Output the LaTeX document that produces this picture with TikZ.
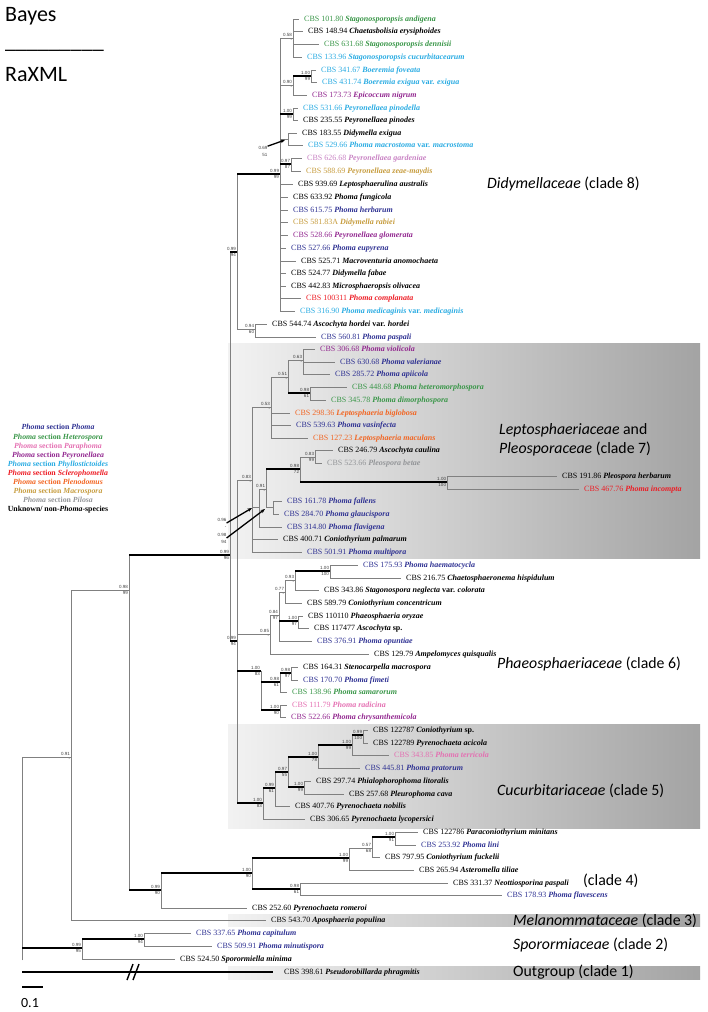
\documentclass[tikz,border=0pt]{standalone}
\usepackage{fontspec}
\setmainfont{Liberation Serif}
\newfontfamily\calib{Carlito}
\newfontfamily\arialf{Liberation Sans}
\usetikzlibrary{arrows.meta}

\definecolor{cblue}{RGB}{46,49,146}
\definecolor{cgreen}{RGB}{57,150,72}
\definecolor{ccyan}{RGB}{41,171,226}
\definecolor{cpurple}{RGB}{146,39,143}
\definecolor{cpink}{RGB}{228,112,178}
\definecolor{clav}{RGB}{200,130,195}
\definecolor{cred}{RGB}{237,28,36}
\definecolor{corange}{RGB}{242,101,34}
\definecolor{ctan}{RGB}{198,156,62}
\definecolor{cgray}{RGB}{147,149,152}

\newcommand{\spn}[1]{\textbf{\textit{#1}}}
\newcommand{\varb}{\textbf{var.}}
\newcommand{\cbs}[2]{CBS #1 \spn{#2}}
\newcommand{\bsv}[3]{%
  \node[bsup,anchor=south east] at ([xshift=-0.8pt,yshift=1.5pt]#1) {#2};
  \node[bsup,anchor=north east] at ([xshift=-0.8pt,yshift=-1.5pt]#1) {#3};}

\tikzset{
  tip/.style={anchor=west,inner sep=0pt,font=\fontsize{8}{9}\selectfont,
    text height=5.6pt,text depth=1.6pt},
  br/.style={draw=black!50,line width=0.6pt},
  thk/.style={draw=black,line width=2.8pt},
  bsup/.style={inner sep=0pt,font=\arialf\fontsize{4.5}{7}\selectfont,text=black!75},
  clade/.style={anchor=base west,inner sep=0pt,font=\calib\fontsize{15.8}{18}\selectfont},
  arr/.style={-{Stealth[length=4.5pt,width=3.5pt]},line width=1.3pt},
  legend/.style={align=center,inner sep=0pt,font=\fontsize{7.8}{9.1}\selectfont},
  band/.style={left color=black!5,right color=black!36},
}

\begin{document}
\begin{tikzpicture}[x=1pt,y=-1pt]
\useasboundingbox (0,0) rectangle (707,1012);

% family backgrounds
\shade[band] (228,343) rectangle (700,558);
\shade[band] (228,724) rectangle (700,828);
\shade[band] (228,914) rectangle (700,926);
\shade[band] (228,966) rectangle (700,979);

% header
\node[anchor=base west,inner sep=0pt,font=\calib\fontsize{22}{24}\selectfont] (bayes) at (5,21) {Bayes};
\node[anchor=base west,inner sep=0pt,font=\calib\fontsize{22}{24}\selectfont] (rule) at (5,48) {\_\_\_\_\_\_\_\_\_};
\node[anchor=base west,inner sep=0pt,font=\calib\fontsize{22}{24}\selectfont] (raxml) at (5,81) {RaXML};

% internal nodes
\coordinate (nroot) at (22,960);
\coordinate (nc491) at (71,757);
\coordinate (nc498) at (129,590);
\coordinate (nmain) at (230,555);
\coordinate (ndstem) at (237,252);
\coordinate (ndidy) at (280,174);
\coordinate (nstago) at (293,38);
\coordinate (nepic) at (293,85);
\coordinate (nboer) at (311,76);
\coordinate (npin) at (293,114);
\coordinate (nmac) at (288,139);
\coordinate (ngar) at (291,164);
\coordinate (nhord) at (255,329);
\coordinate (ncore) at (237,641);
\coordinate (nlstem) at (252,480);
\coordinate (nlp53) at (271,407);
\coordinate (nlp51) at (288,377);
\coordinate (nviol) at (303,360);
\coordinate (ndimo) at (310,393);
\coordinate (nflav) at (259,507);
\coordinate (npl91) at (266,489);
\coordinate (npl98) at (300,469);
\coordinate (nbet) at (315,457);
\coordinate (npleo) at (447,482);
\coordinate (nfall) at (273,507);
\coordinate (nph85) at (270,634);
\coordinate (nph84) at (279,615);
\coordinate (nph77) at (285,592);
\coordinate (nph93) at (295,580);
\coordinate (nchaet) at (330,571);
\coordinate (noryz) at (298,621);
\coordinate (nph100) at (261,671);
\coordinate (nsama) at (280,682);
\coordinate (nfime) at (291,673);
\coordinate (nradi) at (280,710);
\coordinate (ncucu) at (263,803);
\coordinate (ncu99) at (275,788);
\coordinate (ncu97) at (288,772);
\coordinate (nprat) at (318,757);
\coordinate (nterr) at (352,745);
\coordinate (nacic) at (363,735);
\coordinate (nlito) at (304,787);
\coordinate (nc499) at (161,890);
\coordinate (nc4) at (252,873);
\coordinate (nc4a) at (349,858);
\coordinate (nc457) at (372,848);
\coordinate (nlini) at (395,837);
\coordinate (nneot) at (300,889);
\coordinate (nspor) at (82,948);
\coordinate (nspor1) at (144,939);

% Didymellaceae
\node[tip,text=cgreen] (andig) at (304,19) {\cbs{101.80}{Stagonosporopsis andigena}};
\node[tip] (erysi) at (308,31) {\cbs{148.94}{Chaetasbolisia erysiphoides}};
\node[tip,text=cgreen] (denni) at (324,44) {\cbs{631.68}{Stagonosporopsis dennisii}};
\node[tip,text=ccyan] (cucur) at (307,57) {\cbs{133.96}{Stagonosporopsis cucurbitacearum}};
\node[tip,text=ccyan] (fovea) at (321,70) {\cbs{341.67}{Boeremia foveata}};
\node[tip,text=ccyan] (exigu) at (322,82) {\cbs{431.74}{Boeremia exigua} \varb{} \spn{exigua}};
\node[tip,text=cpurple] (epico) at (312,95) {\cbs{173.73}{Epicoccum nigrum}};
\node[tip,text=ccyan] (pinla) at (303,108) {\cbs{531.66}{Peyronellaea pinodella}};
\node[tip] (pinod) at (303,120) {\cbs{235.55}{Peyronellaea pinodes}};
\node[tip] (dexig) at (302,133) {\cbs{183.55}{Didymella exigua}};
\node[tip,text=ccyan] (macro) at (308,145) {\cbs{529.66}{Phoma macrostoma} \varb{} \spn{macrostoma}};
\node[tip,text=clav] (garde) at (307,158) {\cbs{626.68}{Peyronellaea gardeniae}};
\node[tip,text=ctan] (zeaem) at (306,171) {\cbs{588.69}{Peyronellaea zeae-maydis}};
\node[tip] (austr) at (298,184) {\cbs{939.69}{Leptosphaerulina australis}};
\node[tip] (fungi) at (293,197) {\cbs{633.92}{Phoma fungicola}};
\node[tip,text=cblue] (herba) at (293,210) {\cbs{615.75}{Phoma herbarum}};
\node[tip,text=ctan] (rabie) at (293,222) {\cbs{581.83A}{Didymella rabiei}};
\node[tip,text=cpurple] (glome) at (293,235) {\cbs{528.66}{Peyronellaea glomerata}};
\node[tip,text=cblue] (eupyr) at (291,248) {\cbs{527.66}{Phoma eupyrena}};
\node[tip] (anomo) at (301,261) {\cbs{525.71}{Macroventuria anomochaeta}};
\node[tip] (fabae) at (291,273) {\cbs{524.77}{Didymella fabae}};
\node[tip] (oliva) at (291,286) {\cbs{442.83}{Microsphaeropsis olivacea}};
\node[tip,text=cred] (compl) at (306,298) {\cbs{100311}{Phoma complanata}};
\node[tip,text=ccyan] (medic) at (300,311) {\cbs{316.90}{Phoma medicaginis} \varb{} \spn{medicaginis}};
\node[tip] (horde) at (272,324) {\cbs{544.74}{Ascochyta hordei} \varb{} \spn{hordei}};
\node[tip,text=cblue] (paspa) at (321,337) {\cbs{560.81}{Phoma paspali}};

% Leptosphaeriaceae and Pleosporaceae
\node[tip,text=cpurple] (violi) at (320,349) {\cbs{306.68}{Phoma violicola}};
\node[tip,text=cblue] (valer) at (340,362) {\cbs{630.68}{Phoma valerianae}};
\node[tip,text=cblue] (apiic) at (335,374) {\cbs{285.72}{Phoma apiicola}};
\node[tip,text=cgreen] (heter) at (352,387) {\cbs{448.68}{Phoma heteromorphospora}};
\node[tip,text=cgreen] (dimor) at (331,400) {\cbs{345.78}{Phoma dimorphospora}};
\node[tip,text=corange] (biglo) at (295,413) {\cbs{298.36}{Leptosphaeria biglobosa}};
\node[tip,text=cblue] (vasin) at (296,425) {\cbs{539.63}{Phoma vasinfecta}};
\node[tip,text=corange] (macul) at (313,438) {\cbs{127.23}{Leptosphaeria maculans}};
\node[tip] (cauli) at (338,450) {\cbs{246.79}{Ascochyta caulina}};
\node[tip,text=cgray] (betae) at (327,463) {\cbs{523.66}{Pleospora betae}};
\node[tip] (pherb) at (562,476) {\cbs{191.86}{Pleospora herbarum}};
\node[tip,text=cred] (incom) at (584,489) {\cbs{467.76}{Phoma incompta}};
\node[tip,text=cblue] (falle) at (287,501) {\cbs{161.78}{Phoma fallens}};
\node[tip,text=cblue] (glauc) at (284,514) {\cbs{284.70}{Phoma glaucispora}};
\node[tip,text=cblue] (flavi) at (287,527) {\cbs{314.80}{Phoma flavigena}};
\node[tip] (palma) at (283,539) {\cbs{400.71}{Coniothyrium palmarum}};
\node[tip,text=cblue] (multi) at (307,552) {\cbs{501.91}{Phoma multipora}};

% Phaeosphaeriaceae
\node[tip,text=cblue] (haema) at (363,565) {\cbs{175.93}{Phoma haematocycla}};
\node[tip] (hispi) at (406,578) {\cbs{216.75}{Chaetosphaeronema hispidulum}};
\node[tip] (negle) at (324,590) {\cbs{343.86}{Stagonospora neglecta} \varb{} \spn{colorata}};
\node[tip] (conce) at (307,603) {\cbs{589.79}{Coniothyrium concentricum}};
\node[tip] (oryza) at (308,616) {\cbs{110110}{Phaeosphaeria oryzae}};
\node[tip] (ascsp) at (314,628) {\cbs{117477}{Ascochyta} \textbf{sp.}};
\node[tip,text=cblue] (opunt) at (317,641) {\cbs{376.91}{Phoma opuntiae}};
\node[tip] (quisq) at (374,654) {\cbs{129.79}{Ampelomyces quisqualis}};
\node[tip] (steno) at (303,667) {\cbs{164.31}{Stenocarpella macrospora}};
\node[tip,text=cblue] (fimet) at (303,680) {\cbs{170.70}{Phoma fimeti}};
\node[tip,text=cgreen] (samar) at (292,692) {\cbs{138.96}{Phoma samarorum}};
\node[tip,text=cpink] (radic) at (292,705) {\cbs{111.79}{Phoma radicina}};
\node[tip,text=cpurple] (chrys) at (291,717) {\cbs{522.66}{Phoma chrysanthemicola}};

% Cucurbitariaceae
\node[tip] (conio) at (373,730) {\cbs{122787}{Coniothyrium} \textbf{sp.}};
\node[tip] (acico) at (373,743) {\cbs{122789}{Pyrenochaeta acicola}};
\node[tip,text=cpink] (terri) at (394,755) {\cbs{343.85}{Phoma terricola}};
\node[tip,text=cblue] (prato) at (365,768) {\cbs{445.81}{Phoma pratorum}};
\node[tip] (litor) at (316,781) {\cbs{297.74}{Phialophorophoma litoralis}};
\node[tip] (cava) at (349,794) {\cbs{257.68}{Pleurophoma cava}};
\node[tip] (nobil) at (295,806) {\cbs{407.76}{Pyrenochaeta nobilis}};
\node[tip] (lycop) at (310,819) {\cbs{306.65}{Pyrenochaeta lycopersici}};

% clade 4 to outgroup
\node[tip] (minit) at (423,832) {\cbs{122786}{Paraconiothyrium minitans}};
\node[tip,text=cblue] (plini) at (421,845) {\cbs{253.92}{Phoma lini}};
\node[tip] (fucke) at (385,857) {\cbs{797.95}{Coniothyrium fuckelii}};
\node[tip] (tilia) at (419,870) {\cbs{265.94}{Asteromella tiliae}};
\node[tip] (paspl) at (453,883) {\cbs{331.37}{Neottiosporina paspali}};
\node[tip,text=cblue] (flave) at (507,895) {\cbs{178.93}{Phoma flavescens}};
\node[tip] (romer) at (252,908) {\cbs{252.60}{Pyrenochaeta romeroi}};
\node[tip] (popul) at (271,920) {\cbs{543.70}{Aposphaeria populina}};
\node[tip,text=cblue] (capit) at (196,933) {\cbs{337.65}{Phoma capitulum}};
\node[tip,text=cblue] (minut) at (217,946) {\cbs{509.91}{Phoma minutispora}};
\node[tip] (minim) at (180,959) {\cbs{524.50}{Sporormiella minima}};
\node[tip] (phrag) at (284,972) {\cbs{398.61}{Pseudorobillarda phragmitis}};

% branches to internal nodes
\foreach \p/\c in {ndidy/nstago,ndidy/nepic,nepic/nboer,ndidy/npin,ndidy/nmac,ndidy/ngar,
  ndstem/ndidy,ndstem/nhord,nmain/ndstem,nmain/ncore,ncore/nlstem,nlstem/nlp53,nlp53/nlp51,
  nlp51/nviol,nlp51/ndimo,nlstem/nflav,nflav/npl91,npl91/npl98,npl91/nfall,npl98/nbet,
  npl98/npleo,ncore/nph85,nph85/nph84,nph84/nph77,nph77/nph93,nph93/nchaet,nph84/noryz,
  ncore/nph100,nph100/nsama,nsama/nfime,nph100/nradi,ncore/ncucu,ncucu/ncu99,ncu99/ncu97,
  ncu97/nprat,nprat/nterr,nterr/nacic,ncu97/nlito,nc498/nmain,nc491/nc498,nc498/nc499,
  nc499/nc4,nc4/nc4a,nc4a/nc457,nc457/nlini,nc4/nneot,nroot/nc491,nroot/nspor,nspor/nspor1}
  \draw[br] (\p) |- (\c);

% branches to tips
\foreach \p/\c in {nstago/andig,nstago/erysi,nstago/denni,nstago/cucur,nboer/fovea,nboer/exigu,
  nepic/epico,npin/pinla,npin/pinod,nmac/dexig,nmac/macro,ngar/garde,ngar/zeaem,ndidy/austr,
  ndidy/fungi,ndidy/herba,ndidy/rabie,ndidy/glome,ndidy/eupyr,ndidy/anomo,ndidy/fabae,
  ndidy/oliva,ndidy/compl,ndidy/medic,nhord/horde,nhord/paspa,nviol/violi,nviol/valer,
  nviol/apiic,ndimo/heter,ndimo/dimor,nlp53/biglo,nlp53/vasin,nlp53/macul,nbet/cauli,
  nbet/betae,npleo/pherb,npleo/incom,nfall/falle,nfall/glauc,nflav/flavi,nlstem/palma,
  nlstem/multi,nchaet/haema,nchaet/hispi,nph93/negle,nph77/conce,noryz/oryza,noryz/ascsp,
  nph84/opunt,nph85/quisq,nfime/steno,nfime/fimet,nsama/samar,nradi/radic,nradi/chrys,
  nacic/conio,nacic/acico,nterr/terri,nprat/prato,nlito/litor,nlito/cava,ncu99/nobil,
  ncucu/lycop,nlini/minit,nlini/plini,nc457/fucke,nc4a/tilia,nneot/paspl,nneot/flave,
  nc499/romer,nc491/popul,nspor1/capit,nspor1/minut,nspor/minim}
  \draw[br,shorten >=5pt] (\p) |- (\c);

% well supported branches
\foreach \p/\c in {ndstem/ndidy,nmain/ndstem,nc498/nmain,nmain/ncore,nepic/nboer,ndidy/npin,
  ndidy/ngar,nlp51/ndimo,npl91/npl98,npl98/npleo,nph93/nchaet,nph84/noryz,ncore/nph100,
  nph100/nsama,nsama/nfime,nph100/nradi,ncore/ncucu,ncucu/ncu99,ncu99/ncu97,ncu97/nprat,
  nprat/nterr,nterr/nacic,ncu97/nlito,nc457/nlini,nc499/nc4,nc4/nc4a,nc4/nneot,nc498/nc499,
  nroot/nspor,nspor/nspor1}
  \draw[thk] (\p |- \c) -- (\c);
\draw[thk,shorten >=11pt] (nroot |- phrag) -- (phrag);
\draw[line width=1.4pt] (127,980) -- (133,964) (133,980) -- (139,964);

% support values
\bsv{nstago}{0.58}{-} \bsv{nepic}{0.90}{-} \bsv{nboer}{1.00}{99} \bsv{npin}{1.00}{99}
\bsv{ngar}{0.97}{87} \bsv{ndidy}{0.99}{99} \bsv{ndstem}{0.99}{94} \bsv{nhord}{0.94}{60}
\bsv{nviol}{0.63}{-} \bsv{ndimo}{0.98}{61} \bsv{nlp51}{0.51}{-} \bsv{nlp53}{0.53}{-}
\bsv{nlstem}{0.83}{-} \bsv{npl91}{0.91}{-} \bsv{npl98}{0.98}{72} \bsv{nbet}{0.83}{99}
\bsv{npleo}{1.00}{100} \bsv{nchaet}{1.00}{100} \bsv{nph93}{0.93}{-} \bsv{nph77}{0.77}{-}
\bsv{noryz}{1.00}{97} \bsv{nph84}{0.84}{97} \bsv{nph85}{0.85}{-} \bsv{ncore}{0.99}{94}
\bsv{nfime}{0.98}{97} \bsv{nsama}{0.98}{61} \bsv{nradi}{1.00}{90} \bsv{nph100}{1.00}{83}
\bsv{nacic}{0.99}{100} \bsv{nterr}{1.00}{99} \bsv{nprat}{1.00}{78} \bsv{nlito}{1.00}{99}
\bsv{ncu97}{0.97}{55} \bsv{ncu99}{0.99}{61} \bsv{ncucu}{1.00}{83} \bsv{nlini}{1.00}{91}
\bsv{nc457}{0.57}{68} \bsv{nc4a}{1.00}{99} \bsv{nneot}{0.98}{61} \bsv{nc4}{1.00}{90}
\bsv{nc499}{0.99}{90} \bsv{nc498}{0.98}{99} \bsv{nmain}{0.99}{96} \bsv{nc491}{0.91}{-}
\bsv{nspor}{0.99}{95} \bsv{nspor1}{1.00}{94}

% values for short branches, with arrows
\node[bsup,align=right] (lmac) at (263,151.5) {0.69\\51};
\node[bsup,align=right] (lflav) at (222,523) {0.96\\-};
\node[bsup,align=right] (lfall) at (222,538) {0.98\\94};
\coordinate (amac) at (285,140);
\coordinate (aflav) at (252,508);
\coordinate (afall) at (265,509);
\draw[arr] (lmac.north east) -- (amac);
\draw[arr] (lflav.east) -- (aflav);
\draw[arr] (lfall.east) -- (afall);

% family labels
\node[clade] (didy) at (487,188) {\textit{Didymellaceae} (clade 8)};
\node[clade] (lepto) at (499,434) {\textit{Leptosphaeriaceae} and};
\node[clade] (pleo) at (499,453) {\textit{Pleosporaceae} (clade 7)};
\node[clade] (phaeo) at (497,668) {\textit{Phaeosphaeriaceae} (clade 6)};
\node[clade] (cucu) at (497,795) {\textit{Cucurbitariaceae} (clade 5)};
\node[clade] (cl4) at (583,885) {(clade 4)};
\node[clade] (melan) at (513,925) {\textit{Melanommataceae} (clade 3)};
\node[clade] (spor) at (513,949) {\textit{Sporormiaceae} (clade 2)};
\node[clade] (outg) at (513,976) {Outgroup (clade 1)};

% legend
\node[legend] (key) at (58,469) {%
  {\color{cblue}\spn{Phoma} \textbf{section} \spn{Phoma}}\\
  {\color{cgreen}\spn{Phoma} \textbf{section} \spn{Heterospora}}\\
  {\color{cpink}\spn{Phoma} \textbf{section} \spn{Paraphoma}}\\
  {\color{cpurple}\spn{Phoma} \textbf{section} \spn{Peyronellaea}}\\
  {\color{ccyan}\spn{Phoma} \textbf{section} \spn{Phyllostictoides}}\\
  {\color{cred}\spn{Phoma} \textbf{section} \spn{Sclerophomella}}\\
  {\color{corange}\spn{Phoma} \textbf{section} \spn{Plenodomus}}\\
  {\color{ctan}\spn{Phoma} \textbf{section} \spn{Macrospora}}\\
  {\color{cgray}\spn{Phoma} \textbf{section} \spn{Pilosa}}\\
  \textbf{Unknown/ non-\textit{Phoma}-species}};

% scale bar
\draw[line width=2.2pt] (22,987) -- (43,987);
\node[anchor=base,inner sep=0pt,font=\calib\fontsize{14}{16}\selectfont] (scale) at (30,1007) {0.1};
\end{tikzpicture}
\end{document}
